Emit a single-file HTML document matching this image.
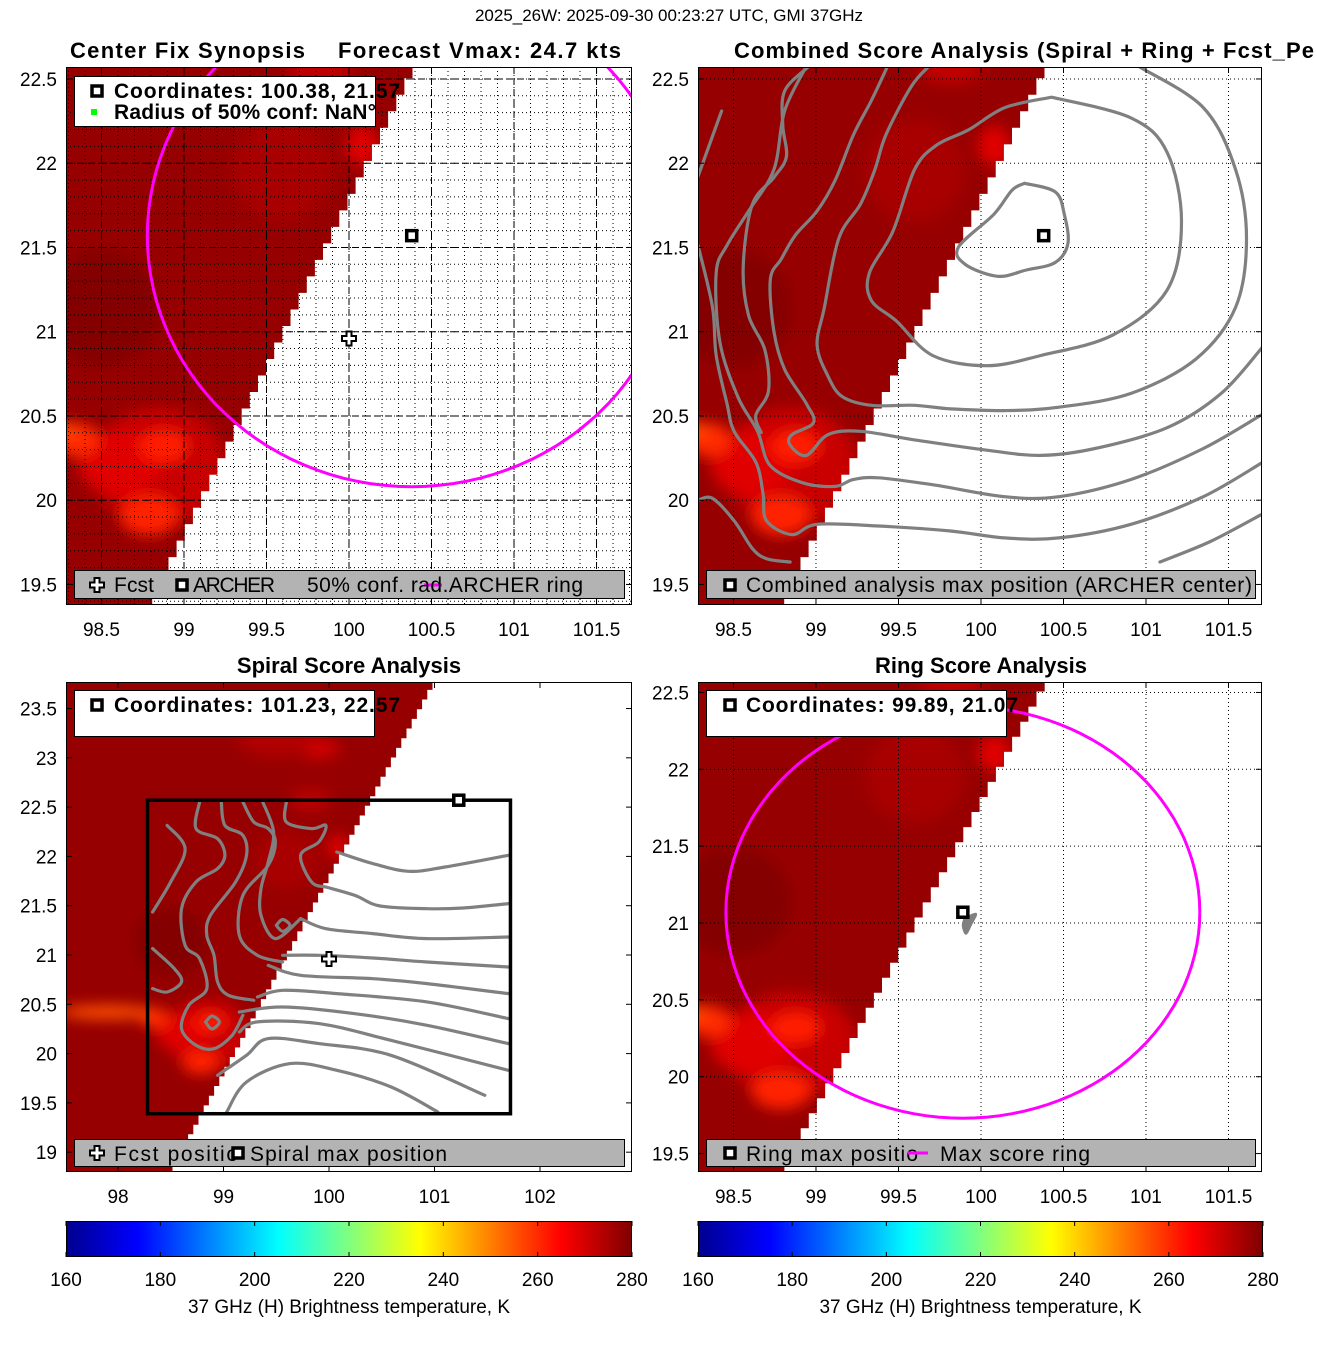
<!DOCTYPE html>
<html><head><meta charset="utf-8">
<style>
html,body{margin:0;padding:0;background:#fff;}
svg{display:block;font-family:"Liberation Sans","DejaVu Sans",sans-serif;}
</style></head>
<body>
<svg id="fig" width="1317" height="1350" viewBox="0 0 1317 1350" xmlns="http://www.w3.org/2000/svg">
<defs>
<filter id="blur" x="-50%" y="-50%" width="200%" height="200%"><feGaussianBlur stdDeviation="7"/></filter>
<linearGradient id="jet" x1="0" x2="1" y1="0" y2="0">
<stop offset="0" stop-color="#00008f"/><stop offset="0.125" stop-color="#0000ff"/>
<stop offset="0.375" stop-color="#00ffff"/><stop offset="0.625" stop-color="#ffff00"/>
<stop offset="0.875" stop-color="#ff0000"/><stop offset="1" stop-color="#800000"/>
</linearGradient>
</defs>
<text x="669" y="21" text-anchor="middle" font-size="17">2025_26W: 2025-09-30 00:23:27 UTC, GMI 37GHz</text>
<text x="70" y="58" font-size="22" font-weight="bold" textLength="235">Center Fix Synopsis</text>
<text x="338" y="58" font-size="22" font-weight="bold" textLength="283">Forecast Vmax: 24.7 kts</text>
<text x="734" y="58" font-size="22" font-weight="bold" textLength="580">Combined Score Analysis (Spiral + Ring + Fcst_Pe</text>
<text x="349" y="673" font-size="22" font-weight="bold" text-anchor="middle">Spiral Score Analysis</text>
<text x="981" y="673" font-size="22" font-weight="bold" text-anchor="middle">Ring Score Analysis</text>
</svg>
<script>
// ---------- data ----------
const xTicksTop = [98.5, 99, 99.5, 100, 100.5, 101, 101.5];
const yTicksTop = [19.5, 20, 20.5, 21, 21.5, 22, 22.5];
const xTicksSpiral = [98, 99, 100, 101, 102];
const yTicksSpiral = [19, 19.5, 20, 20.5, 21, 21.5, 22, 22.5, 23, 23.5];
const cbarTicks = [160, 180, 200, 220, 240, 260, 280];
const archerCenter = [100.38, 21.57];
const fcstPos = [100.0, 20.96];
const spiralMax = [101.23, 22.57];
const ringCenter = [99.89, 21.07];
const archerRingRadius = 1.49;
const ringRadius = 1.34;
const swathEdge = [[98.788, 19.378], [100.394, 22.571]];
const searchBox = [98.28, 19.39, 101.72, 22.57];
// hotspots: lon, lat, rx(deg), ry(deg), color
const hotspots = [
 [98.85, 20.2, 0.4, 0.35, "#c80000"],
 [98.5, 21.14, 0.35, 0.35, "#840000"],
 [99.6, 21.96, 0.3, 0.3, "#a80000"],
 [98.61, 20.22, 0.25, 0.2, "#e00000"],
 [98.35, 20.36, 0.14, 0.1, "#ff2a00"],
 [98.876, 20.32, 0.15, 0.1, "#ff1a00"],
 [98.788, 19.91, 0.18, 0.12, "#ff2000"],
 [100.08, 22.10, 0.1, 0.12, "#e00000"],
 [99.82, 22.57, 0.2, 0.1, "#c00000"],
 [97.9, 20.42, 0.45, 0.07, "#ff5000"],
 [99.9, 23.09, 0.2, 0.1, "#d00000"],
 [99.5, 23.3, 0.4, 0.3, "#b00000"]
];
// combined-score contours
const cA = [[100.264,21.881],[100.450,21.830],[100.505,21.697],[100.527,21.523],[100.450,21.411],[100.275,21.366],[100.100,21.329],[99.904,21.400],[99.864,21.503],[100.078,21.697],[100.188,21.840],[100.264,21.881]];
const cB = [[100.428,22.392],[100.909,22.269],[101.128,22.065],[101.215,21.656],[101.128,21.247],[100.800,20.981],[100.363,20.859],[100.035,20.798],[99.707,20.859],[99.488,21.063],[99.335,21.186],[99.324,21.349],[99.466,21.595],[99.597,21.962],[99.729,22.106],[99.925,22.198],[100.144,22.330],[100.428,22.392]];
const cC = [[100.953,22.576],[101.347,22.330],[101.543,21.962],[101.609,21.554],[101.543,21.145],[101.303,20.838],[100.909,20.634],[100.472,20.552],[100.144,20.532],[99.816,20.542],[99.597,20.563],[99.335,20.563],[99.160,20.614],[99.073,20.736],[99.007,20.920],[99.051,21.145],[99.138,21.554],[99.270,21.758],[99.357,21.962],[99.423,22.167],[99.576,22.453],[99.685,22.576]];
const cD = [[101.707,20.910],[101.456,20.634],[101.128,20.430],[100.691,20.307],[100.363,20.266],[100.035,20.297],[99.597,20.358],[99.270,20.409],[99.073,20.389],[98.942,20.266],[98.843,20.327],[98.854,20.389],[98.985,20.460],[98.942,20.573],[98.810,20.777],[98.745,21.002],[98.723,21.309],[98.789,21.431],[98.876,21.574],[99.007,21.717],[99.117,21.901],[99.226,22.167],[99.335,22.371],[99.434,22.576]];
const cE = [[101.707,20.511],[101.347,20.307],[100.909,20.123],[100.472,20.021],[100.144,20.021],[99.707,20.092],[99.379,20.133],[99.226,20.123],[99.117,20.082],[98.920,20.103],[98.723,20.205],[98.646,20.409],[98.526,20.614],[98.417,20.941],[98.395,21.349],[98.461,21.513],[98.592,21.717],[98.745,21.962],[98.810,22.310],[98.942,22.576]];
const cF = [[101.707,20.225],[101.347,20.021],[100.909,19.857],[100.472,19.776],[100.144,19.776],[99.816,19.817],[99.379,19.847],[99.007,19.857],[98.854,19.796],[98.701,19.878],[98.679,20.041],[98.636,20.225],[98.504,20.409],[98.461,20.573],[98.395,20.859],[98.373,21.145],[98.285,21.513]];
const cG = [[101.707,19.919],[101.390,19.755],[101.084,19.633]];
const cH = [[98.285,20.0],[98.373,20.011],[98.504,19.878],[98.614,19.714],[98.701,19.653],[98.843,19.633]];
const cI = [[98.428,22.310],[98.285,21.922]];
const cJ = [[98.952,22.571],[98.810,22.428],[98.799,22.223],[98.821,22.039],[98.745,21.916],[98.613,21.752],[98.559,21.384],[98.591,21.098],[98.690,20.893],[98.712,20.648],[98.635,20.504],[98.668,20.402]];
// spiral-score contours
const sL1 = [[100.074,22.045],[100.416,21.927],[100.758,21.849],[101.100,21.893],[101.699,22.011]];
const sL2 = [[99.971,21.690],[100.245,21.605],[100.484,21.497],[100.929,21.470],[101.271,21.477],[101.699,21.521]];
const sL3 = [[99.731,21.369],[99.971,21.267],[100.416,21.217],[100.929,21.166],[101.699,21.183]];
const sL4 = [[99.560,20.997],[99.903,20.997],[100.416,20.970],[100.929,20.929],[101.699,20.878]];
const sL5 = [[99.424,20.895],[99.731,20.794],[100.416,20.760],[100.929,20.710],[101.699,20.608]];
const sL6 = [[99.321,20.574],[99.560,20.642],[100.074,20.608],[100.929,20.524],[101.699,20.355]];
const sL7 = [[99.150,20.422],[99.560,20.473],[100.245,20.405],[100.929,20.287],[101.699,20.101]];
const sL8 = [[99.150,20.219],[99.321,20.321],[99.903,20.304],[100.587,20.135],[101.699,19.831]];
const sL9 = [[98.944,19.780],[99.218,19.983],[99.424,20.152],[99.903,20.101],[100.587,19.983],[101.477,19.577]];
const sL10 = [[99.030,19.408],[99.218,19.712],[99.629,19.898],[100.074,19.831],[100.587,19.662],[101.032,19.408]];
const sS1 = [[98.773,22.552],[98.739,22.282],[98.944,22.180],[99.013,22.011],[98.944,21.876],[98.739,21.741],[98.602,21.470],[98.636,21.098],[98.773,20.963],[98.842,20.659],[98.671,20.490],[98.602,20.253],[98.739,20.084],[98.910,20.050],[99.081,20.185],[99.184,20.388]];
const sS2 = [[98.979,22.552],[99.013,22.315],[99.184,22.214],[99.218,22.011],[99.115,21.741],[98.876,21.402],[98.842,21.200],[98.910,20.997],[98.944,20.726],[99.047,20.591],[99.287,20.541]];
const sS3 = [[99.184,22.552],[99.287,22.349],[99.424,22.282],[99.492,22.146],[99.424,21.910],[99.184,21.605],[99.150,21.200],[99.321,20.997],[99.560,20.929]];
const sS4 = [[99.595,22.552],[99.595,22.349],[99.834,22.282],[99.971,22.315],[99.903,22.146],[99.731,22.011],[99.834,21.741],[99.971,21.690]];
const sS5 = [[98.465,22.315],[98.636,22.079],[98.499,21.741],[98.328,21.436]];
const sS6 = [[98.328,21.065],[98.534,20.862],[98.602,20.726],[98.465,20.625],[98.328,20.659]];
const sS7 = [[99.372,22.552],[99.475,22.248],[99.424,21.943],[99.355,21.673],[99.355,21.402],[99.492,21.166],[99.731,21.369]];
const sLoopA = [[99.50,21.30],[99.56,21.36],[99.63,21.30],[99.56,21.24],[99.50,21.30]];
const sLoopB = [[98.83,20.32],[98.89,20.38],[98.96,20.32],[98.89,20.25],[98.83,20.32]];
// ring-score blob
const ringBlob = [[99.90,21.03],[99.97,21.06],[99.94,20.99],[99.91,20.93],[99.89,20.98],[99.90,21.03]];

const combinedContours = [cA,cB,cC,cD,cE,cF,cG,cH,cI,cJ];
const spiralContours = [sL1,sL2,sL3,sL4,sL5,sL6,sL7,sL8,sL9,sL10,sS1,sS2,sS3,sS4,sS5,sS6,sS7,sLoopA,sLoopB];

// ---------- layout ----------
const NS = "http://www.w3.org/2000/svg";
const svg = document.getElementById("fig");
function el(tag, attrs, parent){ const e=document.createElementNS(NS,tag); for(const k in attrs) e.setAttribute(k,attrs[k]); (parent||svg).appendChild(e); return e; }

const P = {
 TL:{x0:66,y0:67,w:566,h:538,lon0:98.285,lon1:101.715,lat0:19.378,lat1:22.571},
 TR:{x0:698,y0:67,w:564,h:538,lon0:98.285,lon1:101.703,lat0:19.378,lat1:22.571},
 BL:{x0:66,y0:682,w:566,h:490,lon0:97.507,lon1:102.872,lat0:18.799,lat1:23.769},
 BR:{x0:698,y0:682,w:564,h:490,lon0:98.285,lon1:101.703,lat0:19.380,lat1:22.568}
};
function sx(p,lon){return p.x0+(lon-p.lon0)/(p.lon1-p.lon0)*p.w;}
function sy(p,lat){return p.y0+(p.lat1-lat)/(p.lat1-p.lat0)*p.h;}
function fmt(v){return (Math.round(v*10)/10).toString();}

function smoothPath(p, pts){
 const q=pts.map(d=>[sx(p,d[0]),sy(p,d[1])]);
 let s="M"+q[0][0].toFixed(1)+","+q[0][1].toFixed(1);
 for(let i=0;i<q.length-1;i++){
  const p0=q[Math.max(0,i-1)],p1=q[i],p2=q[i+1],p3=q[Math.min(q.length-1,i+2)];
  const c1=[p1[0]+(p2[0]-p0[0])/6,p1[1]+(p2[1]-p0[1])/6];
  const c2=[p2[0]-(p3[0]-p1[0])/6,p2[1]-(p3[1]-p1[1])/6];
  s+="C"+c1[0].toFixed(1)+","+c1[1].toFixed(1)+" "+c2[0].toFixed(1)+","+c2[1].toFixed(1)+" "+p2[0].toFixed(1)+","+p2[1].toFixed(1);
 }
 return s;
}
function edgeLon(lat){const a=swathEdge[0],b=swathEdge[1];return a[0]+(b[0]-a[0])*(lat-a[1])/(b[1]-a[1]);}

function drawPanel(key, opts){
 const p=P[key];
 const g=el("g",{});
 
 
 const cp=el("clipPath",{id:"clip"+key},g);
 el("rect",{x:p.x0,y:p.y0,width:p.w,height:p.h},cp);
 const inner=el("g",{"clip-path":"url(#clip"+key+")"},g);
 // swath (staircase)
 const step=0.098;
 let pts=[];
 const latA=p.lat0-0.5, latB=p.lat1+0.5;
 pts.push([sx(p,p.lon0-3),sy(p,latA)]);
 for(let la=latA;la<latB;la+=step){
  const lo=edgeLon(la+step/2);
  pts.push([sx(p,lo),sy(p,la)]); pts.push([sx(p,lo),sy(p,la+step)]);
 }
 pts.push([sx(p,p.lon0-3),sy(p,latB)]);
 const scp=el("clipPath",{id:"swath"+key},g);
 el("polygon",{points:pts.map(q=>q[0].toFixed(1)+","+q[1].toFixed(1)).join(" ")},scp);
 const field=el("g",{"clip-path":"url(#swath"+key+")"},inner);
 
 
 el("rect",{x:p.x0-20,y:p.y0-20,width:p.w+40,height:p.h+40,fill:"#970000"},field);
 const hs=el("g",{filter:"url(#blur)"},field);
 hotspots.forEach(h=>{
  const e=el("ellipse",{cx:sx(p,h[0]),cy:sy(p,h[1]),rx:h[2]/(p.lon1-p.lon0)*p.w,ry:h[3]/(p.lat1-p.lat0)*p.h,fill:h[4]},hs);
  
  
 });
 const xt=opts.xticks, yt=opts.yticks;
 // grid
 if(opts.grid){
  if(opts.minor){
   for(let lo=98.3;lo<101.72;lo+=0.1){const X=sx(p,lo);el("line",{x1:X,x2:X,y1:p.y0,y2:p.y0+p.h,stroke:"#000","stroke-width":1,"stroke-dasharray":"1,3"},inner);}
   for(let la=19.4;la<22.58;la+=0.1){const Y=sy(p,la);el("line",{x1:p.x0,x2:p.x0+p.w,y1:Y,y2:Y,stroke:"#000","stroke-width":1,"stroke-dasharray":"1,3"},inner);}
  }
  const da=opts.minor?"7,4":"1,3";
  xt.forEach(v=>{const X=sx(p,v);el("line",{x1:X,x2:X,y1:p.y0,y2:p.y0+p.h,stroke:"#000","stroke-width":1,"stroke-dasharray":da},inner);});
  yt.forEach(v=>{const Y=sy(p,v);el("line",{x1:p.x0,x2:p.x0+p.w,y1:Y,y2:Y,stroke:"#000","stroke-width":1,"stroke-dasharray":da},inner);});
 }
 // contours
 (opts.contours||[]).forEach(c=>{
  const e=el("path",{d:smoothPath(p,c),fill:"none",stroke:"#808080","stroke-width":3.2,"stroke-linejoin":"round","stroke-linecap":"round"},inner);
  
  
 });
 if(opts.blob){
  const e=el("path",{d:smoothPath(p,opts.blob),fill:"#808080",stroke:"#808080","stroke-width":2},inner);
  
  
 }
 if(opts.box){
  const b=opts.box;
  const e=el("rect",{x:sx(p,b[0]),y:sy(p,b[3]),width:sx(p,b[2])-sx(p,b[0]),height:sy(p,b[1])-sy(p,b[3]),fill:"none",stroke:"#000","stroke-width":3.5},inner);
  
  
 }
 if(opts.ring){
  const r=opts.ring; let d="";
  for(let i=0;i<=360;i+=3){const t=i*Math.PI/180;const la=r.c[1]+r.r*Math.sin(t);const lo=r.c[0]+r.r*Math.cos(t)/Math.cos(r.c[1]*Math.PI/180);
   d+=(i?"L":"M")+sx(p,lo).toFixed(1)+","+sy(p,la).toFixed(1);}
  const e=el("path",{d:d,fill:"none",stroke:"#ff00ff","stroke-width":3},inner);
  
  
 }
 if(opts.cross){ drawCross(inner, sx(p,opts.cross[0]), sy(p,opts.cross[1])); }
 if(opts.square){ drawSquare(inner, sx(p,opts.square[0]), sy(p,opts.square[1])); }
 // axes box
 const ax=el("rect",{x:p.x0+0.5,y:p.y0+0.5,width:p.w-1,height:p.h-1,fill:"none",stroke:"#000","stroke-width":1},g);
 
 
 xt.forEach(v=>{const X=sx(p,v);
  el("line",{x1:X,x2:X,y1:p.y0+p.h,y2:p.y0+p.h-6,stroke:"#000"},g);
  el("line",{x1:X,x2:X,y1:p.y0,y2:p.y0+6,stroke:"#000"},g);
  const t=el("text",{x:X,y:p.y0+p.h+31,"text-anchor":"middle","font-size":19},g); t.textContent=fmt(v);
  
  
 });
 yt.forEach(v=>{const Y=sy(p,v);
  el("line",{x1:p.x0,x2:p.x0+6,y1:Y,y2:Y,stroke:"#000"},g);
  el("line",{x1:p.x0+p.w,x2:p.x0+p.w-6,y1:Y,y2:Y,stroke:"#000"},g);
  const t=el("text",{x:p.x0-9,y:Y+7,"text-anchor":"end","font-size":19},g); t.textContent=fmt(v);
  
  
 });
 return g;
}
function drawCross(parent,x,y){
 const c=el("path",{d:`M${x-2.5},${y-7}h5v4.5h4.5v5h-4.5v4.5h-5v-4.5h-4.5v-5h4.5z`,fill:"#fff",stroke:"#000","stroke-width":2},parent);
 
 
}
function drawSquare(parent,x,y){
 const s=el("rect",{x:x-5,y:y-5,width:10,height:10,fill:"#fff",stroke:"#000","stroke-width":3.5},parent);
 
 
}
function txt(x,y,s,size,bold,name,len){
 const t=el("text",{x:x,y:y,"font-size":size});
 if(bold) t.setAttribute("font-weight","bold");
 if(len) t.setAttribute("textLength",len);
 t.textContent=s;
 
 
 return t;
}
function box(x,y,w,h,fill,name){
 const r=el("rect",{x:x+0.5,y:y+0.5,width:w,height:h,fill:fill,stroke:"#000","stroke-width":1});
 
 
}

drawPanel("TL",{xticks:xTicksTop,yticks:yTicksTop,grid:true,minor:true,ring:{c:archerCenter,r:archerRingRadius},cross:fcstPos,square:archerCenter});
drawPanel("TR",{xticks:xTicksTop,yticks:yTicksTop,grid:true,minor:false,contours:combinedContours,square:archerCenter});
drawPanel("BL",{xticks:xTicksSpiral,yticks:yTicksSpiral,grid:false,contours:spiralContours,box:searchBox,cross:fcstPos,square:spiralMax});
drawPanel("BR",{xticks:xTicksTop,yticks:yTicksTop,grid:true,minor:false,blob:ringBlob,ring:{c:ringCenter,r:ringRadius},square:ringCenter});

// legends
box(74,76,301,50,"#fff","coordinates-legend");
drawSquare(svg,97,91); txt(114,98,"Coordinates: 100.38, 21.57",21,true,"coordinates-text",286);
el("rect",{x:91,y:109,width:6,height:6,fill:"#00ff00"});
txt(114,119,"Radius of 50% conf: NaN°",21,true,"radius-text",262);
box(74,570,550,28,"#b3b3b3","synopsis-legend");
drawCross(svg,97,585); txt(114,592,"Fcst",21,false,"legend-fcst",40);
drawSquare(svg,182,585); txt(193,592,"ARCHER",21,false,"legend-archer",82);
el("line",{x1:424,x2:442,y1:585,y2:585,stroke:"#ff00ff","stroke-width":3});
txt(307,592,"50% conf. rad.ARCHER ring",21,false,"legend-ring",276);

box(706,570,549,28,"#b3b3b3","combined-legend");
drawSquare(svg,730,585); txt(746,592,"Combined analysis max position (ARCHER center)",21,false,"legend-combined",506);

box(74,690,300,46,"#fff","spiral-coordinates-legend");
drawSquare(svg,97,705); txt(114,712,"Coordinates: 101.23, 22.57",21,true,"spiral-coordinates-text",286);
box(74,1139,550,27,"#b3b3b3","spiral-legend");
drawCross(svg,97,1153); txt(114,1161,"Fcst positio",21,false,"legend-fcst-position",124);
drawSquare(svg,238,1153); txt(250,1161,"Spiral max position",21,false,"legend-spiral-max",197);

box(706,690,300,46,"#fff","ring-coordinates-legend");
drawSquare(svg,730,705); txt(746,712,"Coordinates: 99.89, 21.07",21,true,"ring-coordinates-text",272);
box(706,1139,549,27,"#b3b3b3","ring-legend");
drawSquare(svg,730,1153); txt(746,1161,"Ring max positio",21,false,"legend-ring-max",172);
el("line",{x1:908,x2:928,y1:1153,y2:1153,stroke:"#ff00ff","stroke-width":3});
txt(940,1161,"Max score ring",21,false,"legend-max-ring",150);

// colorbars
[[66,566],[698,565]].forEach((c,i)=>{
 const r=el("rect",{x:c[0]+0.5,y:1221.5,width:c[1]-1,height:35,fill:"url(#jet)",stroke:"#000","stroke-width":1});
 
 
 cbarTicks.forEach(v=>{
  const X=c[0]+(v-160)/120*c[1];
  el("line",{x1:X,x2:X,y1:1221,y2:1226,stroke:"#000"});
  el("line",{x1:X,x2:X,y1:1257,y2:1252,stroke:"#000"});
  const t=el("text",{x:X,y:1286,"text-anchor":"middle","font-size":19}); t.textContent=v;
  
  
 });
 const l=el("text",{x:c[0]+c[1]/2,y:1313,"text-anchor":"middle","font-size":19}); l.textContent="37 GHz (H) Brightness temperature, K";
 
 
});
</script>
</body></html>
